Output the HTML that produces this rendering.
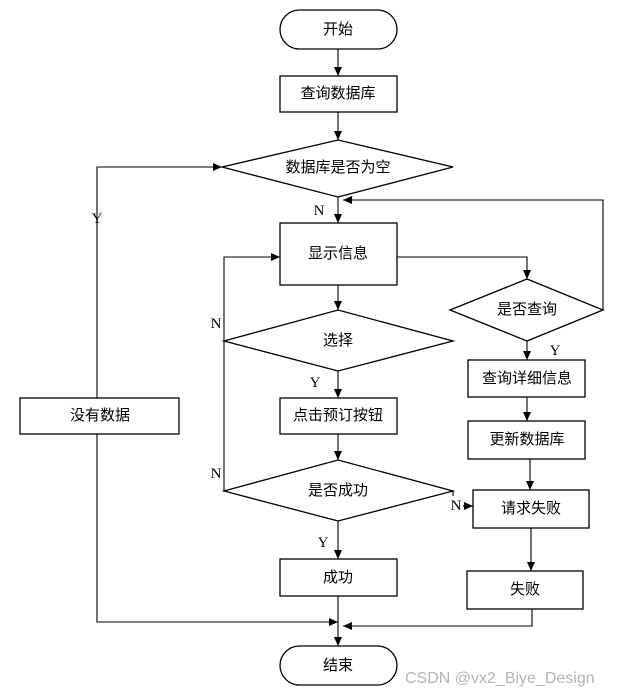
<!DOCTYPE html>
<html><head><meta charset="utf-8"><style>
html,body{margin:0;padding:0;background:#fff;width:636px;height:696px;overflow:hidden}
text{font-family:"Liberation Serif","Noto Sans CJK SC",serif;font-size:15px;fill:#000}
.c{text-anchor:middle;dominant-baseline:central}
</style></head><body>
<svg width="636" height="696" viewBox="0 0 636 696" xmlns="http://www.w3.org/2000/svg">
<defs><marker id="a" markerWidth="10" markerHeight="10" refX="9" refY="5" orient="auto" markerUnits="userSpaceOnUse"><path d="M0,1 L9,5 L0,9 z" fill="#000"/></marker></defs>
<g fill="none" stroke="#000" stroke-width="1.3">
<rect x="280" y="10" width="117" height="39" rx="19.5"/>
<rect x="280" y="76" width="117" height="36"/>
<polygon points="222,167 338,140 453,167 338,197"/>
<rect x="280" y="223" width="117" height="62"/>
<polygon points="450,310 527,279 603,310 527,341"/>
<polygon points="224,341 338,310 453,341 338,371"/>
<rect x="20" y="398" width="159" height="36"/>
<rect x="280" y="398" width="117" height="36"/>
<rect x="468" y="360" width="117" height="37"/>
<rect x="468" y="421" width="117" height="38"/>
<polygon points="224,491 338,460 453,491 338,521"/>
<rect x="473" y="490" width="116" height="38"/>
<rect x="280" y="559" width="117" height="37"/>
<rect x="467" y="571" width="116" height="38"/>
<rect x="280" y="646" width="117" height="39" rx="19.5"/>
</g>
<g fill="none" stroke="#000" stroke-width="1.1">
<line x1="338" y1="49" x2="338" y2="76" marker-end="url(#a)"/>
<line x1="338" y1="112" x2="338" y2="140" marker-end="url(#a)"/>
<line x1="338" y1="197" x2="338" y2="223" marker-end="url(#a)"/>
<polyline points="97,398 97,167 222,167" marker-end="url(#a)"/>
<polyline points="97,434 97,622 338,622" marker-end="url(#a)"/>
<polyline points="603,310 603,200 343,200" marker-end="url(#a)"/>
<polyline points="397,257 527,257 527,279" marker-end="url(#a)"/>
<line x1="338" y1="285" x2="338" y2="310" marker-end="url(#a)"/>
<polyline points="224,491 224,257 280,257" marker-end="url(#a)"/>
<line x1="338" y1="371" x2="338" y2="398" marker-end="url(#a)"/>
<line x1="338" y1="434" x2="338" y2="460" marker-end="url(#a)"/>
<line x1="338" y1="521" x2="338" y2="559" marker-end="url(#a)"/>
<line x1="338" y1="596" x2="338" y2="646" marker-end="url(#a)"/>
<line x1="527" y1="341" x2="527" y2="360" marker-end="url(#a)"/>
<line x1="527" y1="397" x2="527" y2="421" marker-end="url(#a)"/>
<line x1="530" y1="459" x2="530" y2="490" marker-end="url(#a)"/>
<line x1="531" y1="528" x2="531" y2="571" marker-end="url(#a)"/>
<polyline points="532,609 532,626 343,626" marker-end="url(#a)"/>
<line x1="453" y1="491" x2="453" y2="496"/>
<line x1="463" y1="506" x2="473" y2="506" marker-end="url(#a)"/>
</g>
<text class="c" x="338" y="30">开始</text>
<text class="c" x="338" y="94">查询数据库</text>
<text class="c" x="338" y="168">数据库是否为空</text>
<text class="c" x="338" y="254">显示信息</text>
<text class="c" x="527" y="310">是否查询</text>
<text class="c" x="338" y="341">选择</text>
<text class="c" x="100" y="416">没有数据</text>
<text class="c" x="338" y="416">点击预订按钮</text>
<text class="c" x="527" y="379">查询详细信息</text>
<text class="c" x="527" y="440">更新数据库</text>
<text class="c" x="338" y="491">是否成功</text>
<text class="c" x="531" y="509">请求失败</text>
<text class="c" x="338" y="578">成功</text>
<text class="c" x="525" y="590">失败</text>
<text class="c" x="338" y="666">结束</text>
<text class="c" x="97" y="219">Y</text>
<text class="c" x="319" y="211">N</text>
<text class="c" x="216" y="324">N</text>
<text class="c" x="315" y="383">Y</text>
<text class="c" x="555" y="351">Y</text>
<text class="c" x="216" y="474">N</text>
<text class="c" x="456" y="506">N</text>
<text class="c" x="323" y="543">Y</text>
<text x="405" y="683" style="font-family:'Liberation Sans',sans-serif;font-size:16px;fill:#b4b4b4">CSDN @vx2_Biye_Design</text>
</svg>
</body></html>
